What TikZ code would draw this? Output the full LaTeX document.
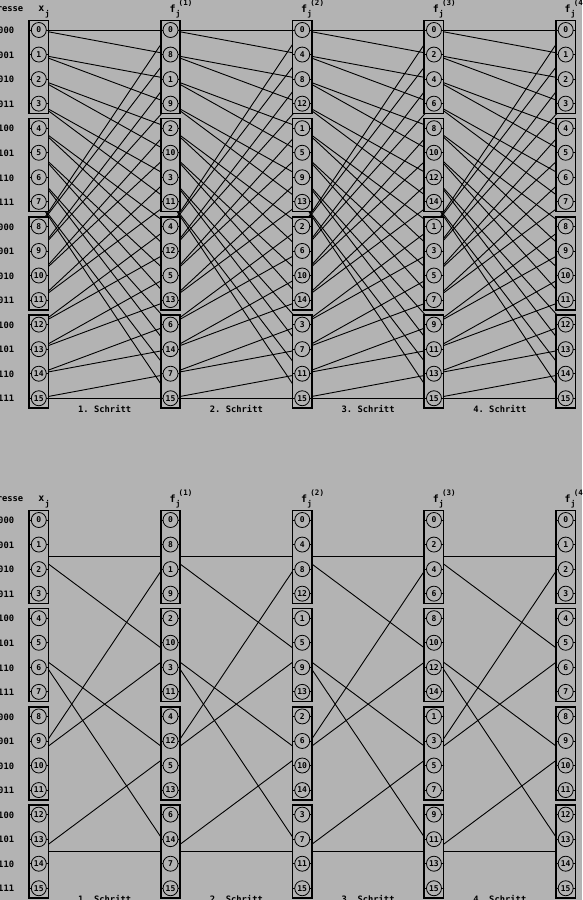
\documentclass[tikz,border=0pt]{standalone}
\usepackage{fontspec}
\setmonofont{DejaVu Sans Mono}
\definecolor{bg}{RGB}{179,179,179}
\tikzset{
  conn/.style={line width=0.9pt, line cap=round},
  blk/.style={draw, line width=1.6pt, fill=bg},
  num/.style={circle, draw, line width=0.8pt, fill=bg, minimum size=15pt, inner sep=0pt,
    font=\ttfamily\bfseries\fontsize{8}{9}\selectfont},
  lbl/.style={font=\ttfamily\bfseries\fontsize{8.8}{9}\selectfont, inner sep=0pt},
  headlbl/.style={font=\ttfamily\bfseries\fontsize{10}{11}\selectfont, inner sep=0pt},
  sublbl/.style={font=\ttfamily\bfseries\fontsize{7.5}{8}\selectfont, inner sep=0pt},
}
\newcommand\colnums[3]{%
  \foreach \lab [count=\rr from 0] in {#3} {
    \draw[conn] ([xshift=-9.7pt]#1#2-\rr) -- ([xshift=9.7pt]#1#2-\rr);
    \node[num] (#1n#2-\rr) at (#1#2-\rr) {\lab};
  }}
\begin{document}
\begin{tikzpicture}[x=1pt,y=-1pt]
\useasboundingbox (0,0) rectangle (582,900);
\fill[bg] (0,0) rectangle (582,900);
% coordinates of the cells and of the blocks
\foreach \yo/\D in {0/T,490/B} {
  \foreach \s in {0,...,4} {
    \foreach \r in {0,...,15} {
      \coordinate (\D\s-\r) at ({38.8+131.72*\s},{\yo+30+24.55*\r});
    }
    \foreach \g in {0,...,3} {
      \coordinate (\D k\s-\g) at ({38.8+131.72*\s},{\yo+30+24.55*(4*\g+1.5)});
    }
  }
}
% top: full butterfly connections
\foreach \s in {0,...,3} {
  \pgfmathtruncatemacro\nxt{\s+1}
  \foreach \r in {0,...,15} {
    \pgfmathtruncatemacro\ra{2*mod(\r,8)}
    \pgfmathtruncatemacro\rb{\ra+1}
    \draw[conn] (T\s-\r) -- (T\nxt-\ra);
    \draw[conn] (T\s-\r) -- (T\nxt-\rb);
  }
}
% bottom: block connections
\foreach \s in {0,...,3} {
  \pgfmathtruncatemacro\nxt{\s+1}
  \foreach \g in {0,...,3} {
    \pgfmathtruncatemacro\ra{2*mod(\g,2)}
    \pgfmathtruncatemacro\rb{\ra+1}
    \draw[conn] (Bk\s-\g) -- (Bk\nxt-\ra);
    \draw[conn] (Bk\s-\g) -- (Bk\nxt-\rb);
  }
}
% boxes
\foreach \D in {T,B} {
  \foreach \s in {0,...,4} {
    \foreach \g in {0,...,3} {
      \pgfmathtruncatemacro\ra{4*\g}
      \pgfmathtruncatemacro\rb{4*\g+3}
      \draw[blk] ([shift={(-9.7,-9.7)}]\D\s-\ra) rectangle ([shift={(9.7,9.7)}]\D\s-\rb);
    }
  }
}
% cells
\foreach \D in {T,B} {
  \colnums{\D}{0}{0,...,15}
  \colnums{\D}{1}{0,8,1,9,2,10,3,11,4,12,5,13,6,14,7,15}
  \colnums{\D}{2}{0,4,8,12,1,5,9,13,2,6,10,14,3,7,11,15}
  \colnums{\D}{3}{0,2,4,6,8,10,12,14,1,3,5,7,9,11,13,15}
  \colnums{\D}{4}{0,...,15}
}
% texts
\foreach \D/\yo in {T/0,B/490} {
  \node[lbl,anchor=east] (\D adr) at (23.5,{\yo+8.5}) {Adresse};
  \foreach \bits [count=\rr from 0] in {0000,0001,0010,0011,0100,0101,0110,0111,1000,1001,1010,1011,1100,1101,1110,1111} {
    \node[lbl,anchor=east] (\D bin\rr) at (14.3,{\yo+30.5+24.55*\rr}) {\bits};
  }
  \node[headlbl] (\D hx) at (41.3,{\yo+8.5}) {x};
  \node[sublbl] (\D hxj) at (47.5,{\yo+14}) {j};
  \foreach \s in {1,...,4} {
    \node[headlbl] (\D hf\s) at ({38.8+131.72*\s+2},{\yo+8.5}) {f};
    \node[sublbl] (\D hfj\s) at ({38.8+131.72*\s+7.5},{\yo+14}) {j};
    \node[sublbl] (\D hfs\s) at ({38.8+131.72*\s+15},{\yo+3.5}) {(\s)};
  }
  \foreach \s [count=\c] in {0,...,3} {
    \node[lbl] (\D st\s) at ({38.8+131.72*(\s+0.5)},{\yo+408.5}) {\c. Schritt};
  }
}
\end{tikzpicture}
\end{document}
